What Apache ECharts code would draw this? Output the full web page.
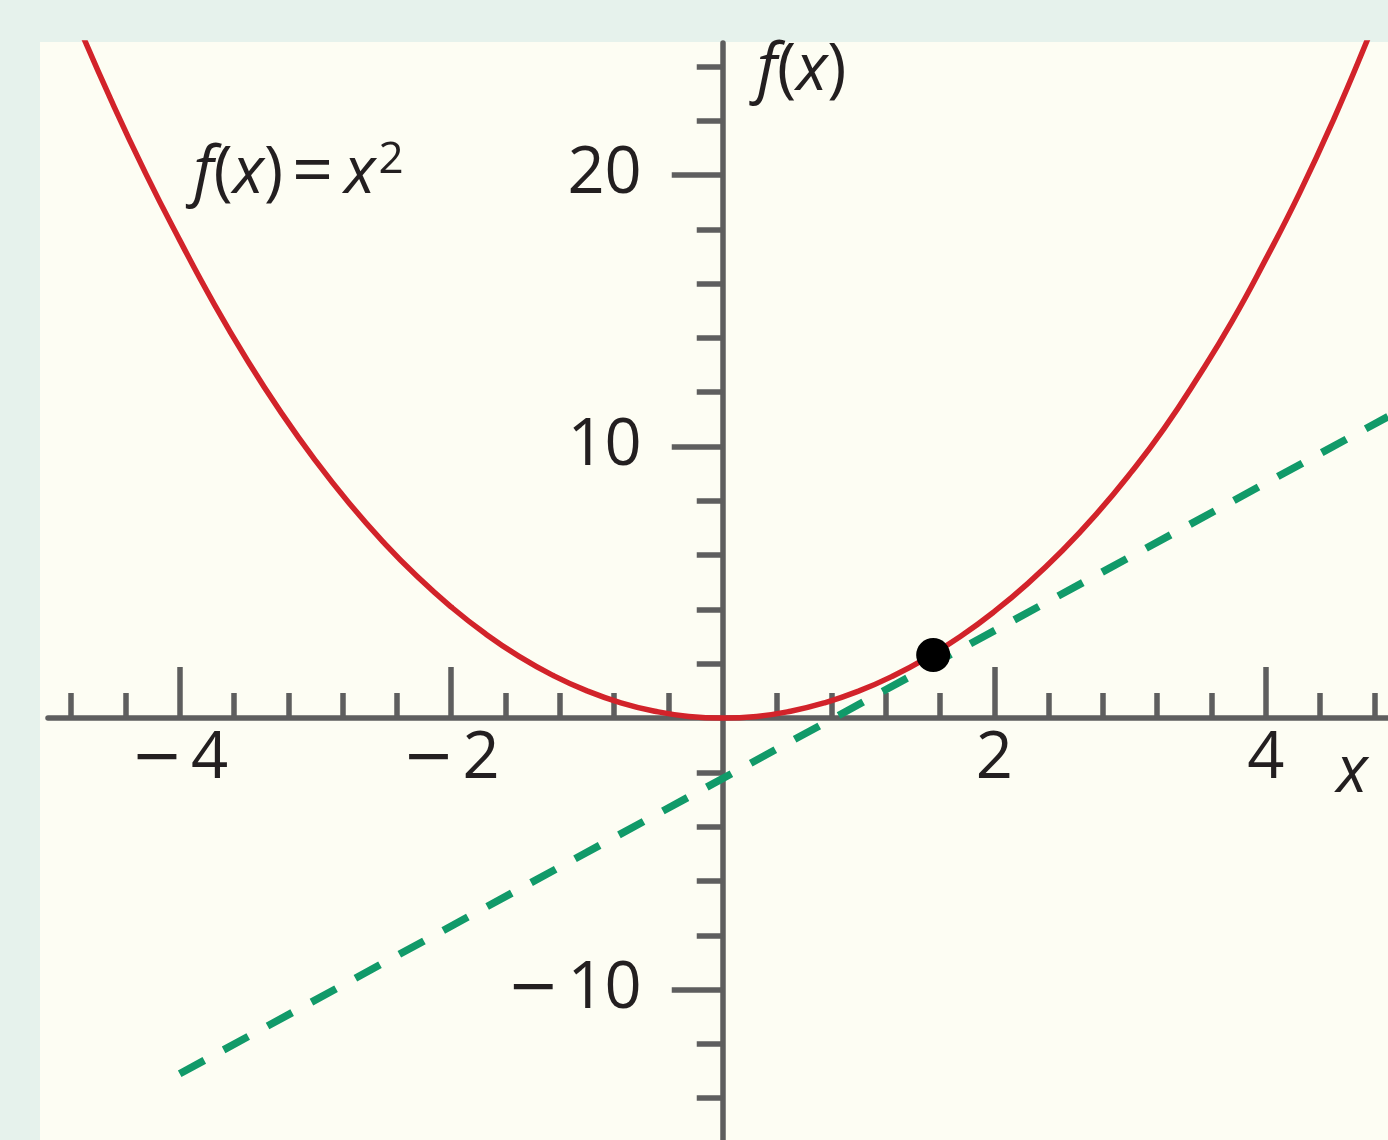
<!DOCTYPE html>
<html>
<head>
<meta charset="utf-8">
<script src="https://cdn.jsdelivr.net/npm/echarts@6/dist/echarts.min.js"></script>
<style>
  html, body { margin: 0; padding: 0; background: #e6f2ec; }
  #chart { width: 1388px; height: 1140px; }
</style>
</head>
<body>
<div id="chart"></div>
<script>
// f(x) = x^2
const curveX = [-5.0, -4.75, -4.5, -4.25, -4.0, -3.75, -3.5, -3.25, -3.0, -2.75, -2.5, -2.25, -2.0, -1.75, -1.5, -1.25, -1.0, -0.75, -0.5, -0.25, 0,
  0.25, 0.5, 0.75, 1.0, 1.25, 1.5, 1.75, 2.0, 2.25, 2.5, 2.75, 3.0, 3.25, 3.5, 3.75, 4.0, 4.25, 4.5, 4.75, 5.0];
const curveY = [28.6, 25.55, 22.7, 20.05, 17.6, 15.28, 13.16, 11.23, 9.48, 7.9, 6.48, 5.21, 4.09, 3.11, 2.27, 1.57, 1.0, 0.56, 0.25, 0.06, 0,
  0.06, 0.25, 0.56, 0.99, 1.54, 2.21, 3.0, 3.92, 4.97, 6.16, 7.5, 9.0, 10.66, 12.55, 14.6, 16.9, 19.35, 22.05, 25.0, 28.1];

// dashed tangent line (end points)
const tangentX = [-4.0, 4.9];
const tangentY = [-13.1, 11.1];

// point of tangency
const pointX = [1.55];
const pointY = [2.32];

// tick labels
const xLabelValues = [-4, -2, 2, 4];
const yLabelValues = [-10, 10, 20];

// text placed in data coordinates
const noteText = ['{i|f}{u|(}{i|x}{u|)}{e|=}{i|x}{s|2}', '{i|f}{u|(}{i|x}{u|)}', '{i|x}'];
const noteX = [-3.9, 0.25, 4.52];
const noteY = [20, 23.8, -2.03];

const xRange = [-4.97, 4.9];
const yRange = [-15.54, 24.86];
const xMajorTicks = [-4, -2, 2, 4];
const yMajorTicks = [-10, 10, 20];

const axisColor = '#5e5e5e';
const textColor = '#231f20';
const font = '"Open Sans", "Noto Sans", sans-serif';

const fmt = v => (v < 0 ? '{m|\u2212}' : '') + '{n|' + Math.abs(v) + '}';

const richStyles = {
  i: { fontSize: 65, fontFamily: font, fontStyle: 'italic', color: textColor },
  u: { fontSize: 65, fontFamily: font, color: textColor },
  e: { fontSize: 72, fontFamily: font, color: textColor, padding: [0, 11, 0, 9] },
  s: { fontSize: 44, fontFamily: font, color: textColor, verticalAlign: 'top', padding: [0, 0, 20, 3] }
};

const numberRich = {
  m: { fontSize: 62, fontFamily: '"DejaVu Sans", sans-serif', color: textColor, padding: [0, 8, 0, 0] },
  n: { fontSize: 65, fontFamily: font, color: textColor }
};

const tickLabelStyle = { show: true, color: textColor, fontSize: 65, fontFamily: font, rich: numberRich };

const chart = echarts.init(document.getElementById('chart'));

chart.setOption({
  backgroundColor: '#e6f2ec',
  animation: false,
  graphic: [{
    type: 'rect', z: -10, silent: true,
    shape: { x: 40, y: 42, width: 1348, height: 1098 },
    style: { fill: '#fdfdf3' }
  }],
  grid: { left: 48, right: 0, top: 43, bottom: 0, outerBoundsMode: 'none', containLabel: false },
  xAxis: {
    type: 'value', min: xRange[0], max: xRange[1], splitNumber: 5,
    splitLine: { show: false },
    axisLine: { onZero: true, lineStyle: { color: axisColor, width: 5.5 } },
    axisTick: { inside: true, length: 51, customValues: xMajorTicks, lineStyle: { color: axisColor, width: 5.5 } },
    minorTick: { show: true, splitNumber: 5, length: 25, lineStyle: { color: axisColor, width: 5.5 } },
    axisLabel: { show: false }
  },
  yAxis: {
    type: 'value', min: yRange[0], max: yRange[1], splitNumber: 4,
    splitLine: { show: false },
    axisLine: { onZero: true, lineStyle: { color: axisColor, width: 5.5 } },
    axisTick: { inside: false, length: 51, customValues: yMajorTicks, lineStyle: { color: axisColor, width: 5.5 } },
    minorTick: { show: true, splitNumber: 5, length: 26, lineStyle: { color: axisColor, width: 5.5 } },
    axisLabel: { show: false }
  },
  series: [
    {
      type: 'line', name: 'f(x)=x^2',
      data: curveX.map((x, i) => [x, curveY[i]]),
      smooth: true, showSymbol: false, clip: true,
      lineStyle: { color: '#d2232a', width: 5.5 }
    },
    {
      type: 'line', name: 'tangent',
      data: tangentX.map((x, i) => [x, tangentY[i]]),
      showSymbol: false, clip: true,
      lineStyle: { color: '#119a69', width: 7.5, type: [28, 22], cap: 'butt' }
    },
    {
      type: 'scatter', name: 'point',
      data: pointX.map((x, i) => [x, pointY[i]]),
      symbolSize: 34, z: 5,
      itemStyle: { color: '#000000', opacity: 1 }
    },
    {
      type: 'scatter', name: 'x labels', silent: true,
      data: xLabelValues.map(v => [v, 0]),
      symbolSize: 0, itemStyle: { color: 'transparent', opacity: 1 },
      label: { ...tickLabelStyle, position: 'bottom', distance: 9, formatter: p => fmt(p.value[0]) }
    },
    {
      type: 'scatter', name: 'y labels', silent: true,
      data: yLabelValues.map(v => [0, v]),
      symbolSize: 0, itemStyle: { color: 'transparent', opacity: 1 },
      label: { ...tickLabelStyle, position: 'left', distance: 81, formatter: p => fmt(p.value[1]) }
    },
    {
      type: 'scatter', name: 'notes', silent: true,
      data: noteX.map((x, i) => ({ value: [x, noteY[i]], text: noteText[i] })),
      symbolSize: 0, itemStyle: { color: 'transparent', opacity: 1 },
      label: {
        show: true, position: 'right', distance: 0,
        formatter: p => p.data.text,
        rich: richStyles
      }
    }
  ]
});
</script>
</body>
</html>
